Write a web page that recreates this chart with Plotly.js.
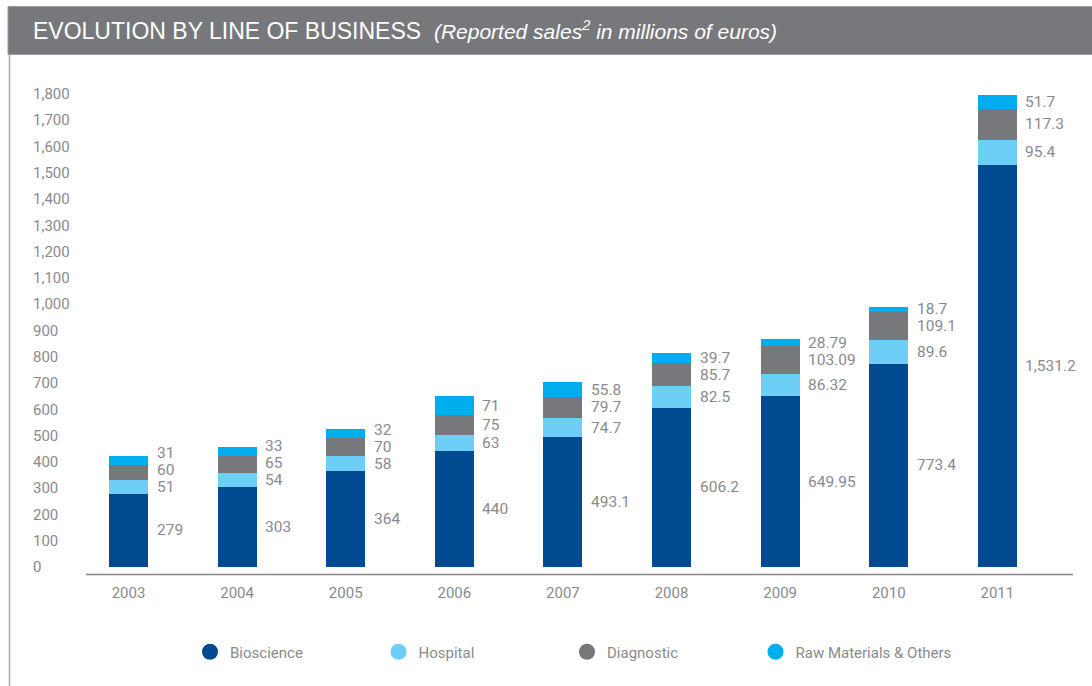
<!DOCTYPE html>
<html>
<head>
<meta charset="utf-8">
<script src="https://cdn.plot.ly/plotly-3.0.1.min.js"></script>
<style>html,body{margin:0;padding:0;background:#fff;}#chart{width:1092px;height:686px;}</style>
</head>
<body>
<div id="chart"></div>
<script>
// ---- data ----
const years = ['2003','2004','2005','2006','2007','2008','2009','2010','2011'];
const bioscience = [279, 303, 364, 440, 493.1, 606.2, 649.95, 773.4, 1531.2];
const hospital = [51, 54, 58, 63, 74.7, 82.5, 86.32, 89.6, 95.4];
const diagnostic = [60, 65, 70, 75, 79.7, 85.7, 103.09, 109.1, 117.3];
const rawMaterials = [31, 33, 32, 71, 55.8, 39.7, 28.79, 18.7, 51.7];
const seriesNames = ['Bioscience', 'Hospital', 'Diagnostic', 'Raw Materials & Others'];
const yTicks = [0, 100, 200, 300, 400, 500, 600, 700, 800, 900, 1000, 1100, 1200, 1300, 1400, 1500, 1600, 1700, 1800];
const chartTitle = 'EVOLUTION BY LINE OF BUSINESS';
const chartSubtitle = '(Reported sales<sup>2</sup> in millions of euros)';

// ---- style ----
const colors = ['#004a91', '#6dcff6', '#77787b', '#00adee'];
const textGray = '#8a8a8d';
const FONT = '"Liberation Sans Narrow", "Arial Narrow", Roboto, "Liberation Sans", Arial, sans-serif';
const series = [bioscience, hospital, diagnostic, rawMaterials];

const W = 1092, H = 686;
const M = {l: 30, r: 12, t: 60, b: 86};
const plotW = W - M.l - M.r, plotH = H - M.t - M.b;
const zeroPx = 567, pxPerUnit = 0.2628;            // vertical scale of the value axis
const yRange = [-(H - M.b - zeroPx) / pxPerUnit, (zeroPx - M.t) / pxPerUnit];
const xRange = [-0.907, 8.761];
const labelGap = 17 / pxPerUnit;
const px2paperX = px => (px - M.l) / plotW;
const py2paperY = py => (H - M.b - py) / plotH;
const legendStartPx = 190, legendStepPx = 188.5;

const traces = series.map((vals, i) => ({
  type: 'bar', x: years, y: vals, name: seriesNames[i],
  marker: {color: colors[i], line: {width: 0}},
  width: 0.36, showlegend: false, hoverinfo: 'x+y+name'
}));
const legendKeys = ['legend', 'legend2', 'legend3', 'legend4'];
// legend entries (round markers), one small legend per entry
seriesNames.forEach((n, i) => traces.push({
  type: 'scatter', mode: 'markers', x: [null], y: [null], name: n, legend: legendKeys[i],
  marker: {color: colors[i], size: 21, symbol: 'circle'}, showlegend: true, hoverinfo: 'skip'
}));

const fmt = v => v.toLocaleString('en-US', {maximumFractionDigits: 2});
const annotations = [];
years.forEach((yr, j) => {
  let base = 0, prev = -1e9;
  series.forEach(vals => {
    const v = vals[j];
    const y = Math.max(base + v / 2, prev + labelGap);
    prev = y;
    base += v;
    annotations.push({
      x: j, y: y, xref: 'x', yref: 'y', text: fmt(v), showarrow: false,
      xanchor: 'left', yanchor: 'middle', xshift: 26,
      font: {family: FONT, size: 15.5, color: textGray}
    });
  });
});

const layout = {
  width: W, height: H,
  margin: M,
  paper_bgcolor: '#fff', plot_bgcolor: 'rgba(0,0,0,0)',
  barmode: 'stack',
  font: {family: FONT, color: textGray},
  title: {
    text: chartTitle + '  <i><span style="font-size:21px;">' + chartSubtitle + '</span></i>',
    x: 33 / W, xref: 'container', xanchor: 'left',
    y: 1 - 31 / H, yref: 'container', yanchor: 'middle',
    font: {family: '"Liberation Sans", Arial, sans-serif', size: 23, color: '#ffffff'}
  },
  xaxis: {
    type: 'category', range: xRange, showgrid: false, zeroline: false, showline: false,
    anchor: 'free', position: py2paperY(575), ticklabelstandoff: 7,
    ticks: '', tickfont: {family: FONT, size: 15, color: textGray}, fixedrange: true
  },
  yaxis: {
    range: yRange, tickmode: 'array', tickvals: yTicks, tickformat: ',d', showgrid: false, zeroline: false,
    showline: false, ticks: '', ticklabelposition: 'inside',
    tickfont: {family: FONT, size: 15, color: textGray}, fixedrange: true
  },
  shapes: [
    {type: 'rect', xref: 'paper', yref: 'paper', x0: px2paperX(8), x1: px2paperX(1100),
     y0: py2paperY(54.5), y1: py2paperY(6.5), fillcolor: '#77787b', line: {color: '#9c9c9e', width: 1}, layer: 'below'},
    {type: 'line', xref: 'paper', yref: 'paper', x0: px2paperX(9.5), x1: px2paperX(9.5),
     y0: py2paperY(54.5), y1: py2paperY(700), line: {color: '#a7a7a9', width: 1.5}},
    {type: 'line', xref: 'paper', yref: 'paper', x0: px2paperX(86), x1: px2paperX(1073),
     y0: py2paperY(574.5), y1: py2paperY(574.5), line: {color: '#858587', width: 1.5}}
  ],
  annotations: annotations
};
legendKeys.forEach((k, i) => {
  layout[k] = {
    orientation: 'h', x: px2paperX(legendStartPx + i * legendStepPx), xanchor: 'left',
    y: py2paperY(652), yanchor: 'middle',
    font: {family: FONT, size: 15, color: textGray}, bgcolor: 'rgba(0,0,0,0)'
  };
});

Plotly.newPlot('chart', traces, layout, {displayModeBar: false, staticPlot: true});
</script>
</body>
</html>
